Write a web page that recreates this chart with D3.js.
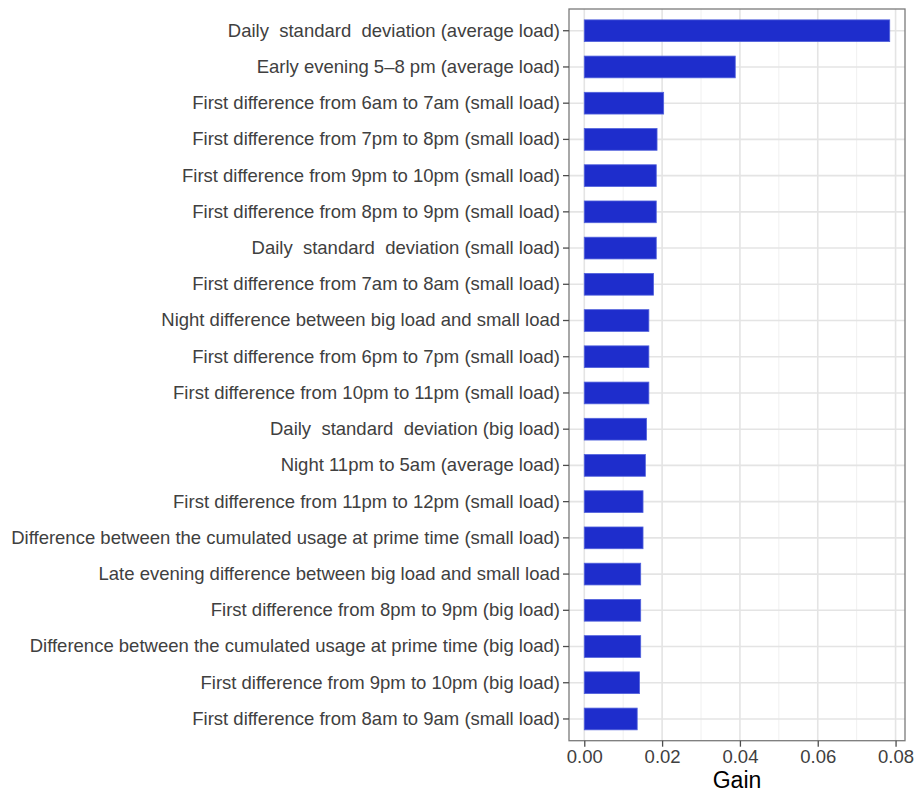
<!DOCTYPE html>
<html>
<head>
<meta charset="utf-8">
<script src="https://cdn.jsdelivr.net/npm/d3@7"></script>
<style>
  html, body { margin: 0; padding: 0; background: #fff; }
  svg { display: block; font-family: "Liberation Sans", Arial, sans-serif; }
  .ylab { white-space: pre; }
</style>
</head>
<body>
<svg id="chart" width="916" height="793"></svg>
<script>
const features = [
  "Daily  standard  deviation (average load)",
  "Early evening 5\u20138 pm (average load)",
  "First difference from 6am to 7am (small load)",
  "First difference from 7pm to 8pm (small load)",
  "First difference from 9pm to 10pm (small load)",
  "First difference from 8pm to 9pm (small load)",
  "Daily  standard  deviation (small load)",
  "First difference from 7am to 8am (small load)",
  "Night difference between big load and small load",
  "First difference from 6pm to 7pm (small load)",
  "First difference from 10pm to 11pm (small load)",
  "Daily  standard  deviation (big load)",
  "Night 11pm to 5am (average load)",
  "First difference from 11pm to 12pm (small load)",
  "Difference between the cumulated usage at prime time (small load)",
  "Late evening difference between big load and small load",
  "First difference from 8pm to 9pm (big load)",
  "Difference between the cumulated usage at prime time (big load)",
  "First difference from 9pm to 10pm (big load)",
  "First difference from 8am to 9am (small load)"
];
const gain = [
  0.0785, 0.0388, 0.0204, 0.0187, 0.0185, 0.0185, 0.0185, 0.0178, 0.0166, 0.0166,
  0.0166, 0.0160, 0.0157, 0.0151, 0.0151, 0.0145, 0.0145, 0.0145, 0.0142, 0.0136
];
const xTicks = [0, 0.02, 0.04, 0.06, 0.08];
const xMinor = [0.01, 0.03, 0.05, 0.07];
const xTitle = "Gain";

const svg = d3.select("#chart");
const panel = { left: 569, right: 905, top: 9, bottom: 740.7 };

const maxV = d3.max(gain);
const ex = maxV * 0.05;
const x = d3.scaleLinear().domain([-ex, maxV + ex]).range([panel.left, panel.right]);
const y = d3.scaleBand().domain(features).range([panel.top, panel.bottom])
  .paddingInner(0.4).paddingOuter(0.3);

// grid
const g = svg.append("g");
g.selectAll("line.minor").data(xMinor).join("line")
  .attr("x1", d => x(d)).attr("x2", d => x(d))
  .attr("y1", panel.top).attr("y2", panel.bottom)
  .attr("stroke", "#f0f0f0").attr("stroke-width", 1);
g.selectAll("line.major").data(xTicks).join("line")
  .attr("x1", d => x(d)).attr("x2", d => x(d))
  .attr("y1", panel.top).attr("y2", panel.bottom)
  .attr("stroke", "#e4e4e4").attr("stroke-width", 1.6);
g.selectAll("line.hmaj").data(features).join("line")
  .attr("x1", panel.left).attr("x2", panel.right)
  .attr("y1", d => y(d) + y.bandwidth() / 2).attr("y2", d => y(d) + y.bandwidth() / 2)
  .attr("stroke", "#e4e4e4").attr("stroke-width", 1.6);

// bars
svg.append("g").selectAll("rect").data(gain).join("rect")
  .attr("x", x(0))
  .attr("y", (d, i) => y(features[i]))
  .attr("width", d => x(d) - x(0))
  .attr("height", y.bandwidth())
  .attr("fill", "#1e2dcc")
  .attr("stroke", "#5262dc").attr("stroke-width", 0.8);

// panel border
svg.append("rect")
  .attr("x", panel.left).attr("y", panel.top)
  .attr("width", panel.right - panel.left).attr("height", panel.bottom - panel.top)
  .attr("fill", "none").attr("stroke", "#7a7a7a").attr("stroke-width", 1.3);

// y axis
const yAxis = svg.append("g").attr("transform", `translate(${panel.left},0)`)
  .call(d3.axisLeft(y).tickSize(6).tickPadding(3));
yAxis.select(".domain").remove();
yAxis.selectAll(".tick line").attr("stroke", "#4d4d4d").attr("stroke-width", 1.3);
yAxis.selectAll(".tick text").attr("class", "ylab")
  .attr("fill", "#404040").style("font-size", "18.5px")
  .style("font-family", "'Liberation Sans', Arial, sans-serif");

// x axis
const xAxis = svg.append("g").attr("transform", `translate(0,${panel.bottom})`)
  .call(d3.axisBottom(x).tickValues(xTicks).tickFormat(d3.format(".2f")).tickSize(6).tickPadding(3));
xAxis.select(".domain").remove();
xAxis.selectAll(".tick line").attr("stroke", "#4d4d4d").attr("stroke-width", 1.3);
xAxis.selectAll(".tick text")
  .attr("fill", "#404040").style("font-size", "18.5px")
  .style("font-family", "'Liberation Sans', Arial, sans-serif");

svg.append("text")
  .attr("x", (panel.left + panel.right) / 2)
  .attr("y", 788)
  .attr("text-anchor", "middle")
  .attr("fill", "#000")
  .style("font-size", "23px")
  .text(xTitle);
</script>
</body>
</html>
